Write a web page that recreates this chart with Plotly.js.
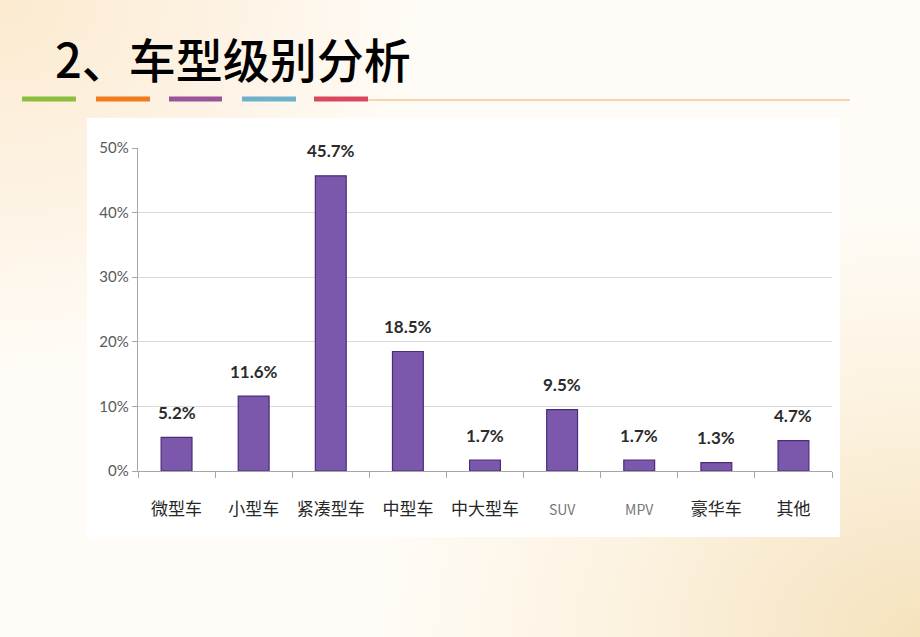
<!DOCTYPE html>
<html>
<head>
<meta charset="utf-8">
<script src="https://cdn.plot.ly/plotly-3.0.1.min.js"></script>
<style>
html,body{margin:0;padding:0;}
body{width:920px;height:637px;overflow:hidden;
background:
 radial-gradient(ellipse 75% 85% at 100% 100%, #f5e2bd 0%, rgba(250,236,210,0.6) 45%, rgba(255,255,255,0) 80%),
 radial-gradient(ellipse 55% 70% at 0% 0%, #fbeacf 0%, rgba(252,236,214,0.5) 50%, rgba(255,255,255,0) 85%),
 #fffcf7;}
#chart{width:920px;height:637px;}
</style>
</head>
<body>
<div id="chart"></div>
<script>
const categories = ["微型车","小型车","紧凑型车","中型车","中大型车","SUV","MPV","豪华车","其他"];
const shares = [5.2, 11.6, 45.7, 18.5, 1.7, 9.5, 1.7, 1.3, 4.7];
const shareLabels = ["5.2%","11.6%","45.7%","18.5%","1.7%","9.5%","1.7%","1.3%","4.7%"];
const yTickVals = [0,10,20,30,40,50];
const yTickText = ["0%","10%","20%","30%","40%","50%"];
const titleText = "2、车型级别分析";

const W = 920, H = 637;
const L = 138, R = 832, T = 148, B = 471;
const px = x => (x - L) / (R - L);
const py = y => (B - y) / (B - T);

const tickText = categories.map(c => (c === "SUV" || c === "MPV")
  ? '<span style="font-size:14px;color:#777777">' + c + '</span>' : c);

const bar = {
  type: 'bar', x: categories, y: shares, cliponaxis: false,
  marker: {color: '#7c58ad', line: {color: '#4a2c78', width: 1.2}},
  hoverinfo: 'skip'
};

const labelAnnotations = categories.map((c, i) => ({
  x: c, y: shares[i], xref: 'x', yref: 'y', text: shareLabels[i],
  showarrow: false, yanchor: 'middle', yshift: 25,
  font: {family: 'Lato, "Noto Sans", sans-serif', size: 17, color: '#2b2b2b', weight: 'bold'}
}));

const segColors = ['#8cbf3f','#f07c1e','#9a5499','#6fb0cc','#d9485e'];
const segX = [[22,76],[96,150],[169,222],[242,296],[314,368]];
const shapes = [
  {type:'rect', xref:'paper', yref:'paper', layer:'below',
   x0:px(87), x1:px(840), y0:py(537), y1:py(118),
   fillcolor:'#ffffff', line:{width:0}},
  {type:'line', xref:'paper', yref:'paper', x0:px(368), x1:px(850), y0:py(100), y1:py(100),
   line:{color:'#f3c98f', width:1.5}}
];
segX.forEach((s,i)=>shapes.push({type:'line', xref:'paper', yref:'paper',
  x0:px(s[0]), x1:px(s[1]), y0:py(99), y1:py(99), line:{color:segColors[i], width:5}}));

const layout = {
  width: W, height: H,
  margin: {l: L, r: W - R, t: T, b: H - B},
  paper_bgcolor: 'rgba(0,0,0,0)', plot_bgcolor: 'rgba(0,0,0,0)',
  showlegend: false,
  bargap: 0.6,
  title: {text: titleText, x: 55/W, xanchor: 'left', xref: 'container', y: 1 - 62/H, yanchor: 'middle', yref: 'container',
    font: {family: '"Noto Sans CJK SC", sans-serif', size: 47, color: '#000', weight: 500}},
  xaxis: {
    tickmode: 'array', tickvals: categories, ticktext: tickText, tickangle: 0,
    tickson: 'boundaries', ticks: 'outside', ticklen: 6, tickcolor: '#a6a6a6',
    ticklabelstandoff: 22,
    showline: true, linecolor: '#a6a6a6', linewidth: 1.2,
    tickfont: {family: '"Noto Sans CJK SC", sans-serif', size: 17, color: '#262626'},
    fixedrange: true
  },
  yaxis: {
    range: [0, 50], tickvals: yTickVals, ticktext: yTickText,
    showline: true, linecolor: '#a6a6a6', linewidth: 1.2,
    ticks: 'outside', ticklen: 5, tickcolor: '#a6a6a6',
    gridcolor: '#d9d9d9', gridwidth: 1.2, zeroline: false,
    tickfont: {family: 'Lato, "Noto Sans", sans-serif', size: 15, color: '#595959'},
    fixedrange: true
  },
  annotations: labelAnnotations,
  shapes: shapes
};

Plotly.newPlot('chart', [bar], layout, {displayModeBar: false, staticPlot: true});
</script>
</body>
</html>
